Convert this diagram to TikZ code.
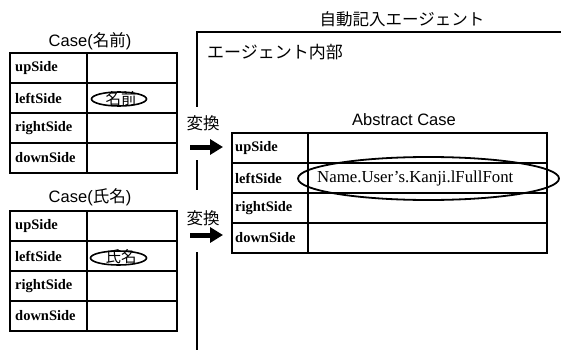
\documentclass[tikz,border=0pt]{standalone}
\usepackage{fontspec}
\setmainfont{Liberation Serif}
\setsansfont{Liberation Sans}
\newfontfamily\jp{Noto Sans CJK JP}
\usetikzlibrary{arrows.meta,shapes.geometric}
\begin{document}
\begin{tikzpicture}[x=1pt,y=-1pt,
  cell/.style={draw, line width=1.1pt, minimum height=30pt, inner sep=0pt, outer sep=0pt},
  lab/.style={anchor=west, inner sep=0pt, font=\bfseries\fontsize{14.5}{15}\selectfont},
  ttl/.style={inner sep=0pt, font=\fontsize{16.5}{17}\selectfont},
  jpt/.style={inner sep=0pt, font=\jp\fontsize{16.5}{17}\selectfont},
  oval/.style={draw, ellipse, line width=1.6pt, inner sep=0pt},
  frame/.style={line width=2pt},
  bigarrow/.style={line width=5pt, -{Triangle[length=13pt,width=15pt]}}]
\useasboundingbox (0,0) rectangle (561,350);

% ---------- Case(名前) ----------
\node[ttl] (t1) at (90,41) {\sffamily Case(\jp 名前\sffamily )};
\foreach \n [count=\i] in {upSide,leftSide,rightSide,downSide} {
  \node[cell, minimum width=77pt] (aL\i) at (48.5,{38+30*\i}) {};
  \node[cell, minimum width=90pt] (aR\i) at (132,{38+30*\i}) {};
  \node[lab] (aT\i) at (15,{38+30*\i}) {\n};
}
\node[oval, minimum width=55pt, minimum height=14pt] (e1) at (119,99) {};
\node[jpt, font=\jp\fontsize{15.5}{16}\selectfont] (e1t) at (121,99) {名前};

% ---------- Case(氏名) ----------
\node[ttl] (t2) at (90,197) {\sffamily Case(\jp 氏名\sffamily )};
\foreach \n [count=\i] in {upSide,leftSide,rightSide,downSide} {
  \node[cell, minimum width=77pt] (bL\i) at (48.5,{196+30*\i}) {};
  \node[cell, minimum width=90pt] (bR\i) at (132,{196+30*\i}) {};
  \node[lab] (bT\i) at (15,{196+30*\i}) {\n};
}
\node[oval, minimum width=56pt, minimum height=14pt] (e2) at (118.5,258) {};
\node[jpt, font=\jp\fontsize{15.5}{16}\selectfont] (e2t) at (121,257) {氏名};

% ---------- agent frame ----------
\node[jpt] (agt) at (402,19) {自動記入エージェント};
\coordinate (f0) at (561,32);
\coordinate (f1) at (197,32);
\coordinate (f2) at (197,107);
\coordinate (f3) at (197,160);
\coordinate (f4) at (197,190);
\coordinate (f5) at (197,252);
\coordinate (f6) at (197,350);
\draw[frame] (f0) -- (f1) -- (f2);
\draw[frame] (f3) -- (f4);
\draw[frame] (f5) -- (f6);
\node[jpt, anchor=west, font=\jp\fontsize{17}{17}\selectfont] (inner) at (207,52) {エージェント内部};

% ---------- Abstract Case ----------
\node[ttl] (t3) at (404,120) {\sffamily Abstract Case};
\foreach \n [count=\i] in {upSide,leftSide,rightSide,downSide} {
  \node[cell, minimum width=76pt] (cL\i) at (270,{118+30*\i}) {};
  \node[cell, minimum width=239pt] (cR\i) at (427.5,{118+30*\i}) {};
  \node[lab] (cT\i) at (235,{118+30*\i}) {\n};
}
\node[oval, line width=1.8pt, minimum width=261pt, minimum height=43pt] (e3) at (428.5,178.5) {};
\node[anchor=west, inner sep=0pt, font=\fontsize{16.8}{17}\selectfont] (e3t) at (317,178) {Name.User’s.Kanji.lFullFont};

% ---------- 変換 arrows ----------
\node[jpt] (v1) at (203,123) {変換};
\node[jpt] (v2) at (203,218) {変換};
\coordinate (s1) at (190,147);
\coordinate (s2) at (190,235);
\draw[bigarrow, shorten >=9pt] (s1) -- (cL1.west |- s1);
\draw[bigarrow, shorten >=9pt] (s2) -- (cL4.west |- s2);
\end{tikzpicture}
\end{document}
